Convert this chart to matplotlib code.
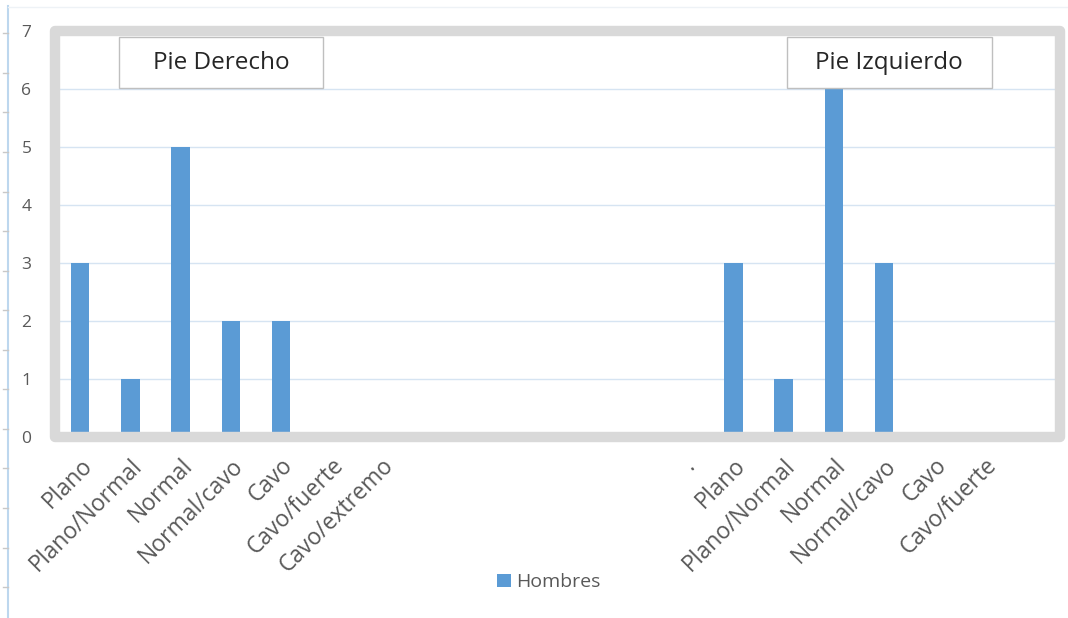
import matplotlib
matplotlib.use('Agg')
import matplotlib.pyplot as plt
from matplotlib.patches import Rectangle, Patch
from matplotlib.lines import Line2D
import numpy as np

plt.rcParams['font.family'] = ['Open Sans', 'DejaVu Sans']

categories = ['Plano', 'Plano/Normal', 'Normal', 'Normal/cavo', 'Cavo', 'Cavo/fuerte', 'Cavo/extremo',
              '', '', '', '', '', '.',
              'Plano', 'Plano/Normal', 'Normal', 'Normal/cavo', 'Cavo', 'Cavo/fuerte', '']
hombres = [3, 1, 5, 2, 2, 0, 0,
           0, 0, 0, 0, 0, 0,
           3, 1, 6, 3, 0, 0, 0]
panel_titles = ['Pie Derecho', 'Pie Izquierdo']

bar_color = '#5b9bd5'
text_color = '#595959'

fig = plt.figure(figsize=(10.68, 6.18), dpi=100)
ax = fig.add_axes([0.0515, 0.2929, 0.9410, 0.6569])

x = np.arange(len(categories))
ax.bar(x, hombres, width=0.37, color=bar_color, linewidth=0, zorder=2)

ax.set_xlim(-0.5, len(categories) - 0.5)
ax.set_ylim(0, 7)
ax.set_yticks(range(0, 8))
ax.grid(axis='y', color='#d6e4f2', linewidth=1, zorder=1)
ax.set_axisbelow(True)

for s in ax.spines.values():
    s.set_visible(False)

ax.tick_params(axis='y', length=0, pad=17, labelsize=12.5, labelcolor=text_color)
ax.tick_params(axis='x', length=0, pad=12, labelsize=16.5, labelcolor=text_color)
ax.set_xticks(x)
ax.set_xticklabels(categories, rotation=45, ha='right', rotation_mode='anchor')

# thick grey frame around plot area
frame = Rectangle((0, 0), 1, 1, transform=ax.transAxes, fill=False,
                  edgecolor='#d9d9d9', linewidth=7.5, joinstyle='round',
                  clip_on=False, zorder=5)
ax.add_patch(frame)

# title boxes
boxes = [(0.0637, 0.2667), (0.728, 0.932)]
for (x0, x1), title in zip(boxes, panel_titles):
    r = Rectangle((x0, 0.8596), x1 - x0, 0.125, transform=ax.transAxes,
                  facecolor='white', edgecolor='#bfbfbf', linewidth=1, zorder=6)
    ax.add_patch(r)
    ax.text((x0 + x1) / 2, 0.8596 + 0.0625, title, transform=ax.transAxes,
            ha='center', va='center', fontsize=17.5, color='#262626', zorder=7)

# legend
fig.legend(handles=[Patch(facecolor=bar_color, label='Hombres')],
           loc='center', bbox_to_anchor=(0.514, 0.058), frameon=False,
           fontsize=14, labelcolor=text_color, handlelength=0.7, handleheight=0.7,
           handletextpad=0.3)

# faint outer page edges
fig.add_artist(Line2D([0.0075, 0.0075], [0.0, 0.99], color='#bdd7ee', linewidth=1.5))
fig.add_artist(Line2D([0.0075, 1.0], [0.989, 0.989], color='#eef2f6', linewidth=1))
for ty in np.arange(0.946, 0.0, -0.064):
    fig.add_artist(Line2D([0.003, 0.0075], [ty, ty], color='#c8c8c8', linewidth=1))

fig.savefig('out.png', dpi=100, facecolor='white')
